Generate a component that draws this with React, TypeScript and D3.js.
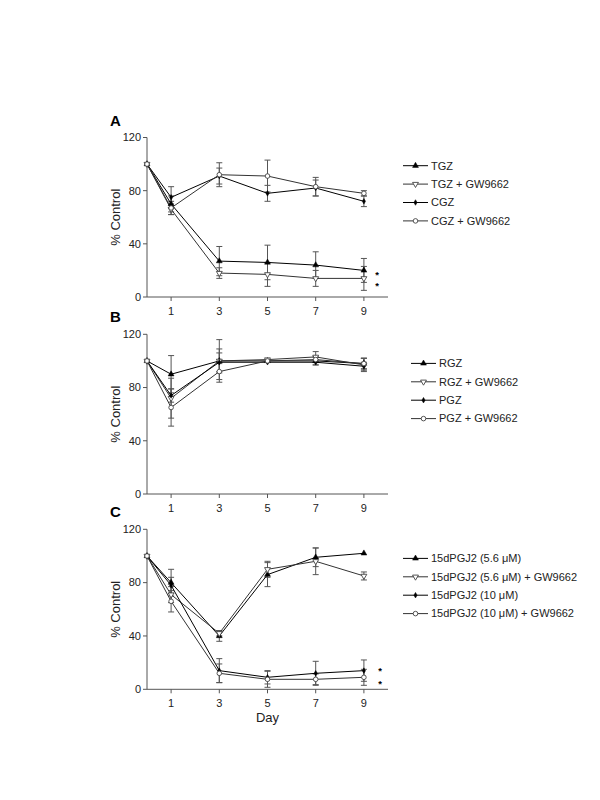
import React from "react";
import * as d3 from "d3";

const days = [0, 1, 3, 5, 7, 9];
const xTicks = [1, 3, 5, 7, 9];
const yTicks = [0, 40, 80, 120];

// Panel A
const tgz = [100, 70, 27, 26, 24, 20];
const tgzErr = [1, 6, 11, 13, 10, 9];
const tgzGw = [100, 66, 18, 17, 14, 14];
const tgzGwErr = [1, 4, 4, 9, 6, 9];
const cgz = [100, 75, 91, 78, 82, 72];
const cgzErr = [1, 8, 6, 6, 6, 4];
const cgzGw = [100, 67, 92, 91, 83, 78];
const cgzGwErr = [1, 5, 9, 12, 7, 2];

// Panel B
const rgz = [100, 90, 100, 100, 100, 98];
const rgzErr = [1, 14, 9, 1, 3, 4];
const rgzGw = [100, 72, 100, 101, 103, 97];
const rgzGwErr = [1, 15, 16, 1, 4, 5];
const pgz = [100, 74, 99, 99, 99, 96];
const pgzErr = [1, 5, 7, 1, 2, 3];
const pgzGw = [100, 65, 92, 100, 101, 98];
const pgzGwErr = [1, 14, 6, 1, 2, 4];

// Panel C
const p56 = [100, 80, 40, 86, 99, 102];
const p56Err = [1, 10, 4, 9, 7, 1];
const p56Gw = [100, 71, 42, 90, 96, 85];
const p56GwErr = [1, 6, 2, 6, 10, 3];
const p10 = [100, 78, 14, 9, 12, 14];
const p10Err = [1, 6, 9, 5, 9, 8];
const p10Gw = [100, 66, 12, 7.5, 7.5, 9];
const p10GwErr = [1, 8, 7, 6, 4, 6];

type Marker = "triUp" | "triDown" | "dot" | "circle";
type Series = { name: string; values: number[]; err: number[]; marker: Marker };

const panels = [
  {
    letter: "A",
    top: 137.5,
    bottom: 297,
    legendX: 403,
    legendY: 165.7,
    stars: { x: 377, y: 278, gap: 11 },
    series: [
      { name: "TGZ", values: tgz, err: tgzErr, marker: "triUp" },
      { name: "TGZ + GW9662", values: tgzGw, err: tgzGwErr, marker: "triDown" },
      { name: "CGZ", values: cgz, err: cgzErr, marker: "dot" },
      { name: "CGZ + GW9662", values: cgzGw, err: cgzGwErr, marker: "circle" },
    ] as Series[],
  },
  {
    letter: "B",
    top: 334.3,
    bottom: 494,
    legendX: 411,
    legendY: 363.4,
    stars: null,
    series: [
      { name: "RGZ", values: rgz, err: rgzErr, marker: "triUp" },
      { name: "RGZ + GW9662", values: rgzGw, err: rgzGwErr, marker: "triDown" },
      { name: "PGZ", values: pgz, err: pgzErr, marker: "dot" },
      { name: "PGZ + GW9662", values: pgzGw, err: pgzGwErr, marker: "circle" },
    ] as Series[],
  },
  {
    letter: "C",
    top: 529.3,
    bottom: 689.3,
    legendX: 403,
    legendY: 558.4,
    stars: { x: 380, y: 673.5, gap: 13 },
    series: [
      { name: "15dPGJ2 (5.6 μM)", values: p56, err: p56Err, marker: "triUp" },
      { name: "15dPGJ2 (5.6 μM) + GW9662", values: p56Gw, err: p56GwErr, marker: "triDown" },
      { name: "15dPGJ2 (10 μM)", values: p10, err: p10Err, marker: "dot" },
      { name: "15dPGJ2 (10 μM) + GW9662", values: p10Gw, err: p10GwErr, marker: "circle" },
    ] as Series[],
  },
];

const FONT = "'Liberation Sans', Arial, sans-serif";
const axisColor = "#555";

function MarkerShape({ type, x, y }: { type: Marker; x: number; y: number }) {
  if (type === "triUp") {
    const p = d3.symbol(d3.symbolTriangle, 15)();
    return <path d={p as string} transform={`translate(${x},${y})`} fill="#000" stroke="#000" strokeWidth={0.5} />;
  }
  if (type === "triDown") {
    const p = d3.symbol(d3.symbolTriangle, 15)();
    return (
      <path d={p as string} transform={`translate(${x},${y}) rotate(180)`} fill="#fff" stroke="#444" strokeWidth={0.9} />
    );
  }
  if (type === "dot") {
    const p = d3.symbol(d3.symbolDiamond, 9)();
    return <path d={p as string} transform={`translate(${x},${y})`} fill="#000" stroke="#000" strokeWidth={0.5} />;
  }
  return <circle cx={x} cy={y} r={2.3} fill="#fff" stroke="#444" strokeWidth={0.9} />;
}

export default function App() {
  const x = d3.scaleLinear().domain([0, 10]).range([147, 388]);
  return (
    <svg width={600} height={800} style={{ position: "absolute", left: 0, top: 0, background: "#fff" }} fontFamily={FONT}>
      <rect x={0} y={0} width={600} height={800} fill="#fff" />
      {panels.map((pn) => {
        const y = d3.scaleLinear().domain([0, 120]).range([pn.bottom, pn.top]);
        const line = d3
          .line<number>()
          .x((_, i) => x(days[i]))
          .y((v) => y(v));
        return (
          <g key={pn.letter}>
            <text x={110} y={pn.top - 12} fontSize={15} fontWeight="bold" fill="#000">
              {pn.letter}
            </text>
            {/* axes */}
            <line x1={x(0)} x2={x(0)} y1={y(120)} y2={y(0)} stroke={axisColor} strokeWidth={1} />
            <line x1={x(0)} x2={x(10)} y1={y(0)} y2={y(0)} stroke={axisColor} strokeWidth={1} />
            {yTicks.map((t) => (
              <g key={t}>
                <line x1={x(0) - 4} x2={x(0)} y1={y(t)} y2={y(t)} stroke={axisColor} />
                <text x={x(0) - 6} y={y(t)} dy="0.35em" textAnchor="end" fontSize={11} fill="#222">
                  {t}
                </text>
              </g>
            ))}
            {xTicks.map((t) => (
              <g key={t}>
                <line x1={x(t)} x2={x(t)} y1={y(0)} y2={y(0) + 4} stroke={axisColor} />
                <text x={x(t)} y={y(0) + 14} dy="0.35em" textAnchor="middle" fontSize={11} fill="#222">
                  {t}
                </text>
              </g>
            ))}
            <text
              transform={`translate(115,${(pn.top + pn.bottom) / 2}) rotate(-90)`}
              textAnchor="middle"
              dy="0.35em"
              fontSize={13}
              fill="#222"
            >
              % Control
            </text>
            {/* error bars */}
            {pn.series.map((s) =>
              s.values.map((v, i) =>
                s.err[i] > 1.5 ? (
                  <g key={s.name + i} stroke="#555" strokeWidth={1}>
                    <line x1={x(days[i])} x2={x(days[i])} y1={y(v + s.err[i])} y2={y(v - s.err[i])} />
                    <line x1={x(days[i]) - 3} x2={x(days[i]) + 3} y1={y(v + s.err[i])} y2={y(v + s.err[i])} />
                    <line x1={x(days[i]) - 3} x2={x(days[i]) + 3} y1={y(v - s.err[i])} y2={y(v - s.err[i])} />
                  </g>
                ) : null
              )
            )}
            {/* lines */}
            {pn.series.map((s) => (
              <path
                key={s.name}
                d={line(s.values) as string}
                fill="none"
                stroke={s.marker === "triDown" || s.marker === "circle" ? "#333" : "#000"}
                strokeWidth={1}
              />
            ))}
            {/* markers */}
            {pn.series.map((s) =>
              s.values.map((v, i) => <MarkerShape key={s.name + "m" + i} type={s.marker} x={x(days[i])} y={y(v)} />)
            )}
            {/* significance stars */}
            {pn.stars && (
              <text x={pn.stars.x} y={pn.stars.y} fontSize={9.5} fontWeight="bold" textAnchor="middle" fill="#000">
                <tspan x={pn.stars.x} dy={0}>*</tspan>
                <tspan x={pn.stars.x} dy={pn.stars.gap}>*</tspan>
              </text>
            )}
            {/* legend */}
            {pn.series.map((s, i) => {
              const ly = pn.legendY + i * 18.4;
              return (
                <g key={s.name + "leg"}>
                  <line
                    x1={pn.legendX}
                    x2={pn.legendX + 25}
                    y1={ly}
                    y2={ly}
                    stroke={s.marker === "triDown" || s.marker === "circle" ? "#333" : "#000"}
                  />
                  <MarkerShape type={s.marker} x={pn.legendX + 12.5} y={ly} />
                  <text x={pn.legendX + 28} y={ly} dy="0.35em" fontSize={11} fill="#222">
                    {s.name}
                  </text>
                </g>
              );
            })}
          </g>
        );
      })}
      <text x={x(5)} y={717} dy="0.35em" textAnchor="middle" fontSize={13} fill="#222">
        Day
      </text>
    </svg>
  );
}
